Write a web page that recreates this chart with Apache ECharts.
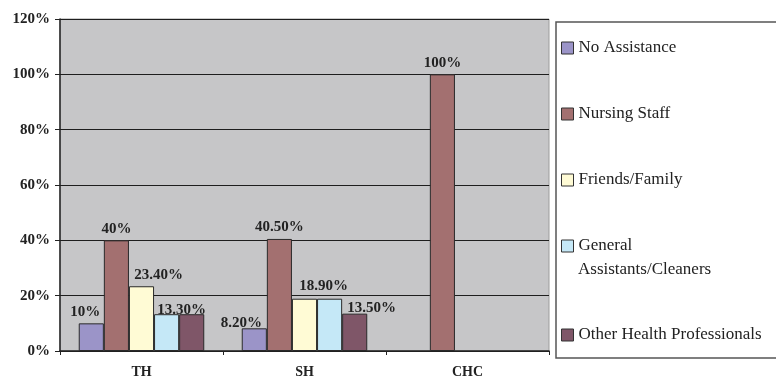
<!DOCTYPE html>
<html>
<head>
<meta charset="utf-8">
<script src="https://cdn.jsdelivr.net/npm/echarts@6/dist/echarts.min.js"></script>
<style>
  html, body { margin: 0; padding: 0; background: #ffffff; }
  #chart { width: 776px; height: 377px; }
</style>
</head>
<body>
<div id="chart"></div>
<script>
// Who assisted patients, by facility type (percent of responses)
const categories = ['TH', 'SH', 'CHC'];
const seriesNames = ['No Assistance', 'Nursing Staff', 'Friends/Family', 'General Assistants/Cleaners', 'Other Health Professionals'];
const noAssistance = [10, 8.2, null];
const nursingStaff = [40, 40.5, 100];
const friendsFamily = [23.4, 18.9, null];
const generalAssistants = [13.3, 18.9, null];
const otherHealthProfessionals = [13.3, 13.5, null];
const yTicks = [0, 20, 40, 60, 80, 100, 120];

const seriesValues = [noAssistance, nursingStaff, friendsFamily, generalAssistants, otherHealthProfessionals];
const seriesColors = ['#9b94c8', '#a37070', '#fffbd5', '#c5e8f7', '#7f5668'];

// Value-label placement per series / category: [dx, dy], or null to hide the label
const labelOffsets = [
  [[-6, 0], [-13, 6], null],
  [[0, 0], [0, 0], [0, 0]],
  [[17, 0], [19, -1], null],
  [[15, 7], null, null],
  [null, [17, 6], null]
];

const serif = "'Liberation Serif', 'Times New Roman', serif";

function pct(v) {
  return Number.isInteger(v) ? v + '%' : v.toFixed(2) + '%';
}

const chart = echarts.init(document.getElementById('chart'), null, { renderer: 'canvas' });

const series = seriesNames.map((name, si) => ({
  name: name,
  type: 'bar',
  barGap: '0%',
  barCategoryGap: '23%',
  itemStyle: { color: seriesColors[si], borderColor: '#2a2a2a', borderWidth: 1 },
  data: seriesValues[si].map((v, ci) => {
    const off = labelOffsets[si][ci];
    return {
      value: v,
      label: off === null || v === null ? { show: false } : {
        show: true,
        position: 'top',
        distance: 4,
        offset: off,
        formatter: (p) => pct(p.value),
        fontFamily: serif,
        fontWeight: 'bold',
        fontSize: 15,
        color: '#222'
      }
    };
  })
}));

const legendText = {
  fontFamily: serif,
  fontSize: 17,
  color: '#222',
  lineHeight: 20
};

chart.setOption({
  animation: false,
  backgroundColor: '#ffffff',
  grid: {
    left: 60, top: 19, right: 227, bottom: 26,
    outerBoundsMode: 'none',
    show: true,
    backgroundColor: '#c6c6c8',
    borderColor: '#9c9c9c',
    borderWidth: 1
  },
  legend: [
    {
      data: seriesNames.slice(0, 4),
      orient: 'vertical',
      left: 556,
      top: 33,
      itemWidth: 12,
      itemHeight: 12,
      itemGap: 46,
      icon: 'rect',
      itemStyle: { borderColor: '#333', borderWidth: 1 },
      formatter: (n) => n === 'General Assistants/Cleaners' ? 'General' : n,
      textStyle: legendText
    },
    {
      data: seriesNames.slice(4),
      orient: 'vertical',
      left: 556,
      top: 320,
      itemWidth: 12,
      itemHeight: 12,
      icon: 'rect',
      itemStyle: { borderColor: '#333', borderWidth: 1 },
      textStyle: legendText
    }
  ],
  graphic: [
    {
      type: 'rect',
      shape: { x: 556, y: 22, width: 240, height: 336 },
      style: { fill: 'none', stroke: '#555', lineWidth: 1.5 },
      silent: true
    },
    {
      type: 'text',
      left: 578,
      top: 261,
      style: { text: 'Assistants/Cleaners', font: "17px 'Liberation Serif', 'Times New Roman', serif", fill: '#222' },
      silent: true
    }
  ],
  xAxis: {
    type: 'category',
    data: categories,
    axisLine: { lineStyle: { color: '#222', width: 1.5 } },
    axisTick: { show: true, length: 4, inside: false, lineStyle: { color: '#222' } },
    axisLabel: {
      margin: 14,
      fontFamily: serif,
      fontWeight: 'bold',
      fontSize: 14,
      color: '#222'
    }
  },
  yAxis: {
    type: 'value',
    min: yTicks[0],
    max: yTicks[yTicks.length - 1],
    interval: yTicks[1] - yTicks[0],
    axisLine: { show: true, lineStyle: { color: '#222', width: 1.5 } },
    axisTick: { show: true, length: 5, lineStyle: { color: '#222' } },
    splitLine: { show: true, lineStyle: { color: '#1e1e1e', width: 1 } },
    axisLabel: {
      margin: 10,
      formatter: '{value}%',
      fontFamily: serif,
      fontWeight: 'bold',
      fontSize: 15,
      color: '#222'
    }
  },
  series: series
});
</script>
</body>
</html>
